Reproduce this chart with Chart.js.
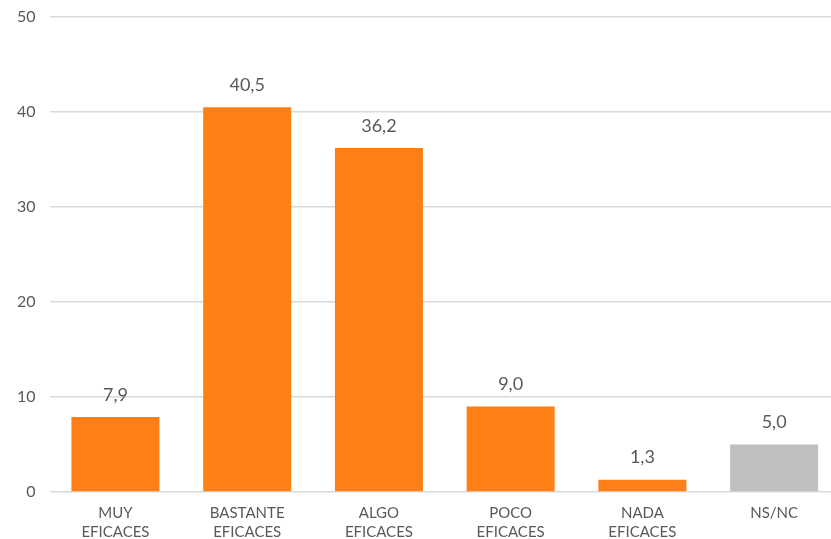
<!DOCTYPE html>
<html lang="es">
<head>
  <meta charset="UTF-8" />
  <title>Eficacia</title>
  <style>
    * { box-sizing: border-box; margin: 0; padding: 0; }
    html, body { width: 831px; height: 539px; background: #fff; overflow: hidden; }
    /* el gráfico original queda recortado por la derecha */
    #wrap { width: 840px; height: 539px; }
  </style>
  <script src="https://cdn.jsdelivr.net/npm/chart.js@4/dist/chart.umd.min.js"></script>
</head>
<body>
  <div id="wrap"><canvas id="chart"></canvas></div>
  <script>
    // datos
    const categorias = [['MUY', 'EFICACES'], ['BASTANTE', 'EFICACES'], ['ALGO', 'EFICACES'], ['POCO', 'EFICACES'], ['NADA', 'EFICACES'], ['NS/NC']];
    const valores = [7.9, 40.5, 36.2, 9.0, 1.3, 5.0];
    const colores = ['#FF7F17', '#FF7F17', '#FF7F17', '#FF7F17', '#FF7F17', '#BFBFBF'];

    const FONT = 'Lato, "Open Sans", sans-serif';
    const GRIS = '#595959';

    // etiquetas encima de cada barra, con coma decimal
    const etiquetas = {
      id: 'etiquetas',
      afterDatasetsDraw(chart) {
        const ctx = chart.ctx;
        const meta = chart.getDatasetMeta(0);
        ctx.save();
        ctx.font = '18px ' + FONT;
        ctx.fillStyle = GRIS;
        ctx.textAlign = 'center';
        ctx.textBaseline = 'middle';
        meta.data.forEach((bar, i) => {
          ctx.fillText(valores[i].toFixed(1).replace('.', ','), bar.x, bar.y - 22);
        });
        ctx.restore();
      }
    };

    new Chart(document.getElementById('chart'), {
      type: 'bar',
      data: {
        labels: categorias,
        datasets: [{
          data: valores,
          backgroundColor: colores,
          barPercentage: 0.668,
          categoryPercentage: 1.0
        }]
      },
      options: {
        responsive: true,
        maintainAspectRatio: false,
        animation: false,
        layout: { padding: { top: 17, right: 0, left: 3, bottom: 0 } },
        plugins: { legend: { display: false }, tooltip: { enabled: false } },
        scales: {
          x: {
            grid: { display: false },
            border: { display: false },
            ticks: { color: GRIS, font: { family: FONT, size: 15, lineHeight: 1.25 }, maxRotation: 0, padding: 4 },
            afterFit(scale) { scale.height = 47; }
          },
          y: {
            min: 0,
            max: 50,
            ticks: { stepSize: 10, color: GRIS, font: { family: FONT, size: 16 }, padding: 14 },
            grid: { color: '#D9D9D9', lineWidth: 1.5, drawTicks: false },
            border: { display: false },
            afterFit(scale) { scale.paddingTop = 0; scale.paddingBottom = 0; }
          }
        }
      },
      plugins: [etiquetas]
    });
  </script>
</body>
</html>
